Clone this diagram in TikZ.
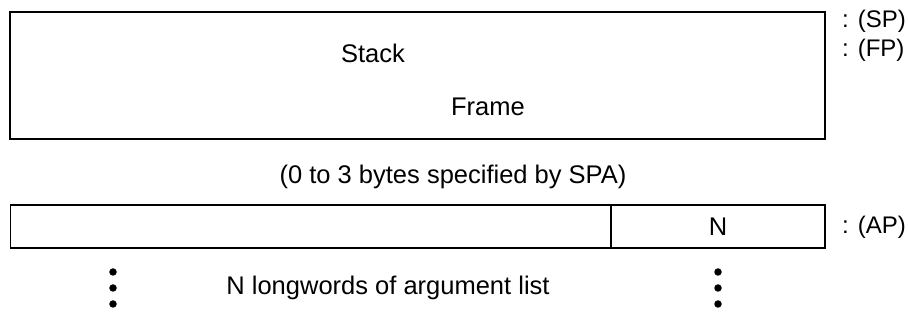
\documentclass[tikz,border=0pt]{standalone}
\usepackage{fontspec}
\setmainfont{Liberation Sans}
\begin{document}
\begin{tikzpicture}[x=1pt,y=-1pt,
  box/.style={draw,line width=1.6pt,inner sep=0pt},
  lbl/.style={font=\fontsize{25.5}{30}\selectfont,inner sep=0pt},
  ptr/.style={font=\fontsize{24}{28}\selectfont,inner sep=0pt,anchor=west},
  dot/.style={circle,fill,inner sep=0pt,minimum size=7.5pt}]
\useasboundingbox (0,0) rectangle (908,320);
\node[box,minimum width=815pt,minimum height=127pt] (frame) at (417.5,75.5) {};
\node[lbl] (stack) at (373,53) {Stack};
\node[lbl] (fr) at (488,107) {Frame};
\node[ptr] (sp) at (842,21) {: (SP)};
\node[ptr] (fp) at (842,50) {: (FP)};
\node[lbl] (spa) at (453,177) {(0 to 3 bytes specified by SPA)};
\node[box,minimum width=601pt,minimum height=43pt] (args) at (311,226.5) {};
\node[box,lbl,minimum width=214pt,minimum height=43pt] (n) at (718,226.5) {N};
\node[ptr] (ap) at (842,227) {: (AP)};
\node[dot] (d1) at (113,272) {};
\node[dot] (d2) at (113,288) {};
\node[dot] (d3) at (113,304) {};
\node[dot] (e1) at (718,272) {};
\node[dot] (e2) at (718,288) {};
\node[dot] (e3) at (718,304) {};
\node[lbl] (lw) at (388,288) {N longwords of argument list};
\end{tikzpicture}
\end{document}
